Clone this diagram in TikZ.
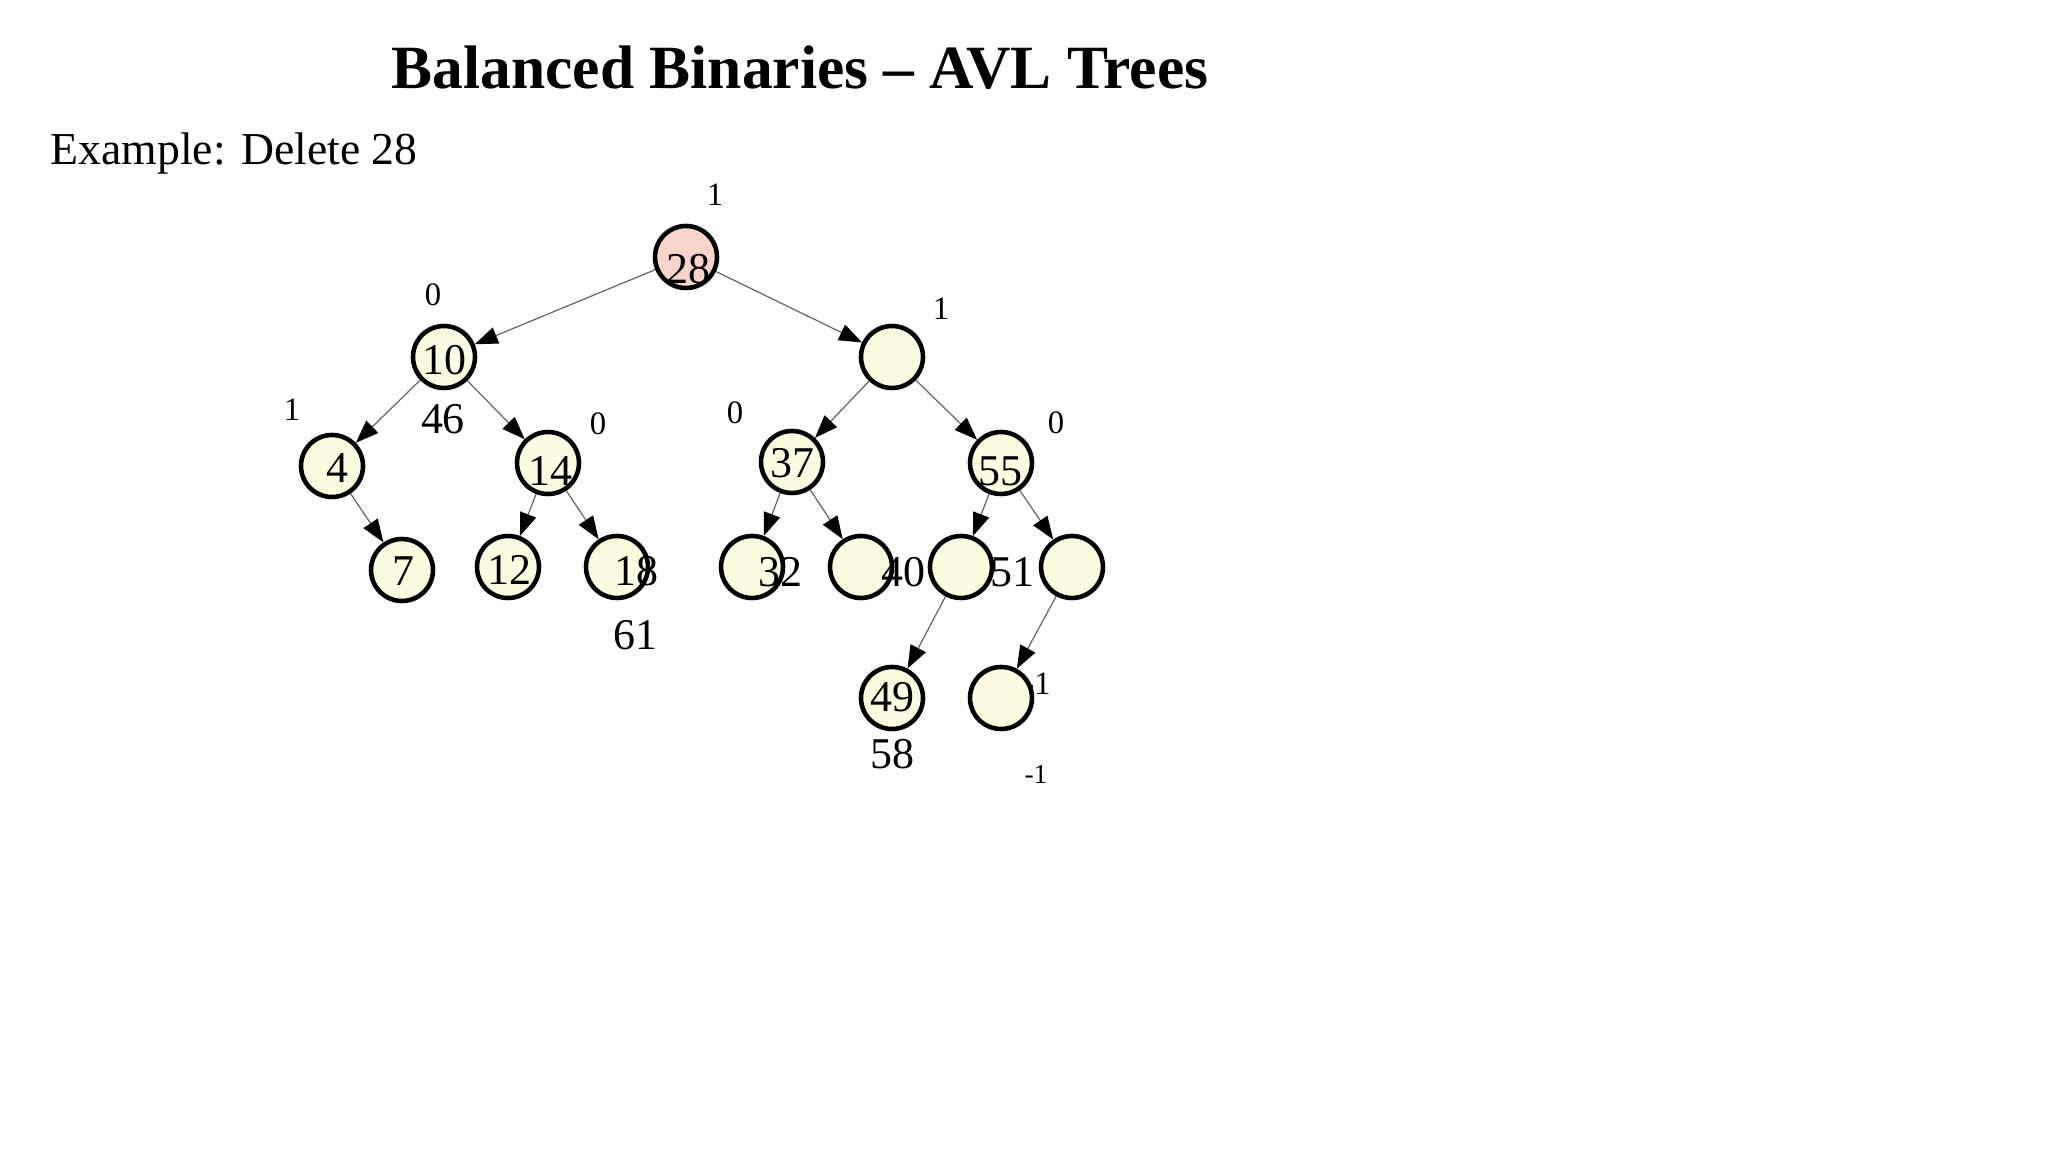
\documentclass[tikz,border=0pt]{standalone}
\usepackage{fontspec}
\setmainfont{Liberation Serif}
\usetikzlibrary{arrows.meta}

\definecolor{nodefill}{RGB}{252,252,224}
\definecolor{rootfill}{RGB}{248,212,202}

\begin{document}
\begin{tikzpicture}[
	avl/.style={circle, draw=black, line width=1.3pt, fill=nodefill, minimum size=.62cm, inner sep=0pt},
	link/.style={draw=black!60, line width=.35pt, -{Triangle[length=.23cm, width=.17cm, color=black, fill=black]}},
	num/.style={inner sep=0pt, font=\fontsize{12.5}{14}\selectfont},
	bal/.style={inner sep=0pt, font=\fontsize{9.3}{11}\selectfont}]
	\useasboundingbox (0,0) rectangle (20.48,-11.52);
	
	\node[anchor=base west, inner sep=0pt, font=\bfseries\fontsize{17.5}{20}\selectfont] (title) at (3.91,-.89) {Balanced Binaries -- AVL Trees};
	\node[anchor=base west, inner sep=0pt, font=\fontsize{13}{16}\selectfont] (ex) at (.50,-1.65) {Example: Delete 28};
	
	\node[bal] (m1) at (10.37,-6.84) {-1};
	
	\node[avl, fill=rootfill] (n28) at (6.86,-2.57) {};
	\node[avl] (n10) at (4.44,-3.57) {};
	\node[avl] (nr) at (8.92,-3.57) {};
	\node[avl] (n4) at (3.32,-4.66) {};
	\node[avl] (n14) at (5.48,-4.63) {};
	\node[avl] (n37) at (7.92,-4.62) {};
	\node[avl] (n55) at (10.01,-4.63) {};
	\node[avl] (n7) at (4.02,-5.70) {};
	\node[avl] (n12) at (5.08,-5.67) {};
	\node[avl] (n18) at (6.17,-5.67) {};
	\node[avl] (n37l) at (7.52,-5.67) {};
	\node[avl] (n37r) at (8.61,-5.67) {};
	\node[avl] (n55l) at (9.61,-5.67) {};
	\node[avl] (n55r) at (10.72,-5.67) {};
	\node[avl] (n49) at (8.92,-6.98) {};
	\node[avl] (n55rl) at (10.01,-6.98) {};
	
	\draw[link] (n28) -- (n10);
	\draw[link] (n28) -- (nr);
	\draw[link] (n10) -- (n4);
	\draw[link] (n10) -- (n14);
	\draw[link] (nr) -- (n37);
	\draw[link] (nr) -- (n55);
	\draw[link] (n4) -- (n7);
	\draw[link] (n14) -- (n12);
	\draw[link] (n14) -- (n18);
	\draw[link] (n37) -- (n37l);
	\draw[link] (n37) -- (n37r);
	\draw[link] (n55) -- (n55l);
	\draw[link] (n55) -- (n55r);
	\draw[link] (n55l) -- (n49);
	\draw[link] (n55r) -- (n55rl);
	
	\node[num] (t28) at (6.88,-2.69) {28};
	\node[num] (t10) at (4.44,-3.60) {10};
	\node[num] (t4) at (3.37,-4.68) {4};
	\node[num] (t14) at (5.50,-4.71) {14};
	\node[num] (t37) at (7.92,-4.63) {37};
	\node[num] (t55) at (10.00,-4.71) {55};
	\node[num] (t7) at (4.03,-5.71) {7};
	\node[num] (t12) at (5.09,-5.70) {12};
	\node[num] (t18) at (6.36,-5.71) {18};
	\node[num] (t32) at (7.80,-5.72) {32};
	\node[num] (t40) at (9.03,-5.72) {40};
	\node[num] (t51) at (10.12,-5.72) {51};
	\node[num] (t49) at (8.92,-6.97) {49};
	\node[num] (t46) at (4.43,-4.19) {46};
	\node[num] (t61) at (6.35,-6.35) {61};
	\node[num] (t58) at (8.92,-7.54) {58};
	
	\node[bal] (b28) at (7.15,-1.95) {1};
	\node[bal] (b10) at (4.33,-2.95) {0};
	\node[bal] (br) at (9.41,-3.09) {1};
	\node[bal] (b4) at (2.92,-4.10) {1};
	\node[bal] (b14) at (5.98,-4.24) {0};
	\node[bal] (b37) at (7.35,-4.13) {0};
	\node[bal] (b55) at (10.56,-4.23) {0};
	\node[bal, font=\fontsize{7.8}{9}\selectfont] (m2) at (10.36,-7.74) {-1};
\end{tikzpicture}
\end{document}
